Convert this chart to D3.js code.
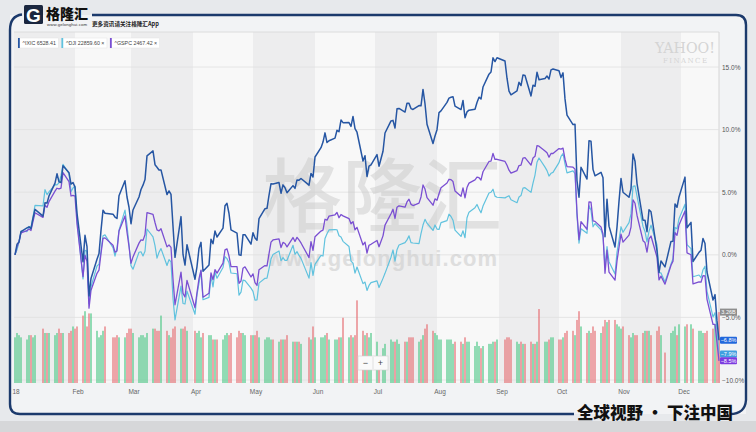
<!DOCTYPE html>
<html><head><meta charset="utf-8">
<script src="https://cdn.jsdelivr.net/npm/d3@7"></script>
<style>body{margin:0;background:#e9ebee}svg{display:block}</style>
</head><body><svg id="c" width="756" height="432"></svg>
<script>
// trading days of 2018, one inner list per month
const tradeDays = [
 [2,3,4,5,8,9,10,11,12,16,17,18,19,22,23,24,25,26,29,30,31],
 [1,2,5,6,7,8,9,12,13,14,15,16,20,21,22,23,26,27,28],
 [1,2,5,6,7,8,9,12,13,14,15,16,19,20,21,22,23,26,27,28,29],
 [2,3,4,5,6,9,10,11,12,13,16,17,18,19,20,23,24,25,26,27,30],
 [1,2,3,4,7,8,9,10,11,14,15,16,17,18,21,22,23,24,25,29,30,31],
 [1,4,5,6,7,8,11,12,13,14,15,18,19,20,21,22,25,26,27,28,29],
 [2,3,5,6,9,10,11,12,13,16,17,18,19,20,23,24,25,26,27,30,31],
 [1,2,3,6,7,8,9,10,13,14,15,16,17,20,21,22,23,24,27,28,29,30,31],
 [4,5,6,7,10,11,12,13,14,17,18,19,20,21,24,25,26,27,28],
 [1,2,3,4,5,8,9,10,11,12,15,16,17,18,19,22,23,24,25,26,29,30,31],
 [1,2,5,6,7,8,9,12,13,14,15,16,19,20,21,23,26,27,28,29,30],
 [3,4,6,7,10,11,12,13,14,17,18,19,20]
];
const ixic = [
 7006.90,7065.53,7077.91,7136.56,7157.39,7163.58,7153.57,7211.78,7261.06,7223.69,7298.28,7296.05,7336.38,7408.03,7460.29,7415.06,7411.16,7505.77,7466.51,7402.48,7411.48,
 7385.86,7240.95,6967.53,7115.88,7051.98,6777.16,6874.49,6981.96,7013.51,7143.62,7256.43,7239.47,7234.31,7218.23,7210.09,7337.39,7421.46,7330.35,7273.01,
 7180.56,7257.87,7330.70,7372.01,7396.65,7427.95,7560.81,7588.32,7511.01,7496.81,7481.74,7481.99,7344.24,7364.30,7345.29,7166.68,6992.67,7220.54,7008.81,6949.23,7063.44,
 6870.12,6941.28,7042.11,7076.55,6915.11,6950.34,7094.30,7069.03,7140.25,7106.65,7156.28,7281.10,7295.24,7238.06,7146.13,7128.60,7007.35,7003.74,7118.68,7119.80,7066.27,
 7130.70,7100.90,7088.15,7209.62,7265.21,7266.90,7339.91,7404.97,7402.88,7411.32,7351.63,7398.30,7382.47,7354.34,7394.04,7378.46,7425.96,7424.43,7433.85,7396.59,7462.45,7442.12,
 7554.33,7606.46,7637.86,7689.24,7635.07,7645.51,7659.93,7703.79,7695.70,7761.04,7746.38,7747.03,7725.59,7781.51,7712.95,7692.82,7532.01,7561.63,7445.08,7503.68,7510.30,
 7567.69,7502.67,7586.43,7688.39,7756.20,7759.20,7716.61,7823.92,7825.98,7805.72,7855.12,7854.44,7825.30,7820.20,7841.87,7840.77,7932.24,7852.18,7737.42,7630.00,7671.79,
 7707.29,7802.69,7812.01,7859.68,7883.66,7888.33,7891.78,7839.11,7819.71,7870.89,7774.12,7806.52,7816.33,7821.01,7859.17,7889.10,7878.46,7945.98,8017.90,8030.04,8109.54,8088.36,8109.69,
 8091.25,7995.17,7922.73,7902.54,7924.16,7972.47,7954.23,8013.71,8010.04,7895.79,7956.11,7950.04,8028.23,7986.96,7993.25,8007.47,7990.37,8041.97,8046.35,
 8037.30,7999.55,8025.09,7879.51,7788.45,7735.95,7738.02,7422.05,7329.06,7496.89,7430.74,7645.49,7642.70,7485.14,7449.03,7468.63,7437.54,7108.40,7318.34,7167.21,7050.29,7161.65,7305.90,
 7434.06,7356.99,7328.85,7375.96,7570.75,7530.88,7406.90,7200.87,7200.87,7136.39,7259.03,7247.87,7028.48,6908.82,6972.25,6938.98,7081.85,7082.70,7291.59,7273.08,7330.54,
 7441.51,7158.43,7188.26,6969.25,7020.52,7031.83,7098.31,7070.33,6910.67,6753.73,6783.91,6636.83,6528.41
];
const dji = [
 24824.01,24922.68,25075.13,25295.87,25283.00,25385.80,25369.13,25574.73,25803.19,25792.86,26115.65,26017.81,26071.72,26214.60,26210.81,26252.12,26392.79,26616.71,26439.48,26076.89,26149.39,
 26186.71,25520.96,24345.75,24912.77,24893.35,23860.46,24190.90,24601.27,24640.45,24893.49,25200.37,25219.38,24964.75,24797.78,24962.48,25309.99,25709.27,25410.03,25029.20,
 24608.98,24538.06,24874.76,24884.12,24801.36,24895.21,25335.74,25178.61,25007.03,24758.12,24873.66,24946.51,24610.91,24727.27,24682.31,23957.89,23533.20,24202.60,23857.71,23848.42,24103.11,
 23644.19,24033.36,24264.30,24505.22,23932.76,23979.10,24407.96,24189.45,24483.05,24360.14,24573.04,24786.63,24748.07,24664.89,24462.94,24448.69,24024.13,24083.83,24322.34,24311.19,24163.15,
 24099.05,23924.98,23930.15,24262.51,24357.32,24360.21,24542.54,24739.53,24831.17,24899.41,24706.41,24768.93,24713.98,24715.09,25013.29,24834.41,24886.81,24811.76,24753.09,24361.45,24667.78,24415.84,
 24635.21,24813.69,24799.98,25146.39,25241.41,25316.53,25322.31,25320.73,25201.20,25175.31,25090.48,24987.47,24700.21,24657.80,24461.70,24580.89,24252.80,24283.11,24117.59,24216.05,24271.41,
 24307.18,24174.82,24356.74,24456.48,24776.59,24919.66,24700.45,24924.89,25019.41,25064.36,25119.89,25199.29,25064.50,25058.12,25044.29,25241.94,25414.10,25527.07,25451.06,25306.83,25415.19,
 25333.82,25326.16,25462.58,25502.18,25628.91,25583.75,25509.23,25313.14,25187.70,25299.92,25162.41,25558.73,25669.32,25758.69,25822.29,25733.60,25656.98,25790.35,26049.64,26064.02,26124.57,25986.92,25964.82,
 25952.48,25974.99,25995.87,25916.54,25857.07,25971.06,25998.92,26145.99,26154.67,26062.12,26246.96,26405.76,26656.98,26743.50,26562.05,26492.21,26385.28,26439.93,26458.31,
 26651.21,26773.94,26828.39,26627.48,26447.05,26486.78,26430.57,25598.74,25052.83,25339.99,25250.55,25798.42,25706.68,25379.45,25444.34,25317.41,25191.43,24583.42,24984.55,24688.31,24442.92,24874.64,25115.76,
 25380.74,25270.83,25461.70,25635.01,26180.30,26191.22,25989.30,25387.18,25286.49,25080.50,25289.27,25413.22,25017.44,24465.64,24464.69,24285.95,24640.24,24748.73,25366.43,25338.84,25538.46,
 25826.43,25027.07,24947.67,24388.95,24423.26,24370.24,24527.27,24597.38,24100.51,23592.98,23675.64,23323.66,22859.60
];
const gspc = [
 2695.81,2713.06,2723.99,2743.15,2747.71,2751.29,2748.23,2767.56,2786.24,2776.42,2802.56,2798.03,2810.30,2832.97,2839.13,2837.54,2839.25,2872.87,2853.53,2822.43,2823.81,
 2821.98,2762.13,2648.94,2695.14,2681.66,2581.00,2619.55,2656.00,2662.94,2698.63,2731.20,2732.22,2716.26,2701.33,2703.96,2747.30,2779.60,2744.28,2713.83,
 2677.67,2691.25,2720.94,2728.12,2726.80,2738.97,2786.57,2783.02,2765.31,2749.48,2747.33,2752.01,2712.92,2716.94,2711.93,2643.69,2588.26,2658.55,2612.62,2605.00,2640.87,
 2581.88,2614.45,2644.69,2662.84,2604.47,2613.16,2656.87,2642.19,2663.99,2656.30,2677.84,2706.39,2708.64,2693.13,2670.14,2670.29,2634.56,2639.40,2666.94,2669.91,2648.05,
 2654.80,2635.67,2629.73,2663.42,2672.63,2671.92,2697.79,2723.07,2727.72,2730.13,2711.45,2722.46,2720.13,2712.97,2733.01,2724.44,2733.29,2727.76,2721.33,2689.86,2724.01,2705.27,
 2734.62,2746.87,2748.80,2772.35,2770.37,2779.03,2782.00,2786.85,2775.63,2782.49,2779.66,2773.75,2762.59,2767.32,2749.76,2754.88,2717.07,2723.06,2699.63,2716.31,2718.37,
 2726.71,2713.22,2736.61,2759.82,2784.17,2793.84,2774.02,2798.29,2801.31,2798.43,2809.55,2815.62,2804.49,2801.83,2806.98,2820.40,2846.07,2837.44,2818.82,2802.60,2816.29,
 2813.36,2827.22,2840.35,2850.40,2858.45,2857.70,2853.58,2833.28,2821.93,2839.96,2818.37,2840.69,2850.13,2857.05,2862.96,2861.82,2856.98,2874.69,2896.74,2897.52,2914.04,2901.13,2901.52,
 2896.72,2888.60,2878.05,2871.68,2877.13,2887.89,2888.92,2904.18,2904.98,2888.80,2904.31,2907.95,2930.75,2929.67,2919.37,2915.56,2905.97,2914.00,2913.98,
 2924.59,2923.43,2925.51,2901.61,2885.57,2884.43,2880.34,2785.68,2728.37,2767.13,2750.79,2809.92,2809.21,2768.78,2767.78,2755.88,2740.69,2656.10,2705.57,2658.69,2641.25,2682.63,2711.74,
 2740.37,2723.06,2738.31,2755.45,2813.89,2806.83,2781.01,2726.22,2722.18,2701.58,2730.20,2736.27,2690.73,2641.89,2649.93,2632.56,2673.45,2682.17,2743.79,2737.80,2760.17,
 2790.37,2700.06,2695.95,2633.08,2637.72,2636.78,2651.07,2650.54,2599.95,2545.94,2546.16,2506.96,2467.42
];
// ^IXIC volume, billions of shares
const volume = [
 2.1,2.3,2.2,2.1,2.0,2.2,2.2,2.1,2.2,2.5,2.3,2.3,2.3,2.2,2.3,2.5,2.3,2.3,2.3,2.4,2.6,
 2.5,2.6,3.1,3.3,2.6,3.2,3.2,2.4,2.1,2.2,2.4,2.6,2.1,2.1,2.2,2.1,2.1,2.3,2.5,
 2.5,2.3,2.1,2.2,2.2,2.1,2.3,2.5,2.5,2.4,2.4,3.1,2.4,2.2,2.1,2.5,2.6,2.5,2.5,2.6,2.4,
 2.4,2.3,2.4,2.1,2.3,2.2,2.2,2.0,2.0,2.0,2.0,2.2,2.3,2.2,2.3,2.1,2.4,2.3,2.3,2.2,2.2,
 2.2,2.2,2.4,2.1,2.0,2.1,2.1,2.0,2.0,1.9,2.0,2.0,2.0,2.2,1.9,1.9,1.9,1.9,1.8,2.1,2.0,2.6,
 2.1,2.1,2.1,2.2,2.3,2.0,2.0,2.0,2.1,2.1,3.0,2.1,2.2,2.1,2.2,3.8,2.4,2.2,2.3,2.1,2.3,
 1.9,1.2,1.6,1.8,2.0,1.9,1.9,2.0,1.8,1.9,1.9,2.1,2.1,2.1,1.9,2.0,2.2,2.5,2.7,2.4,2.3,
 2.2,2.0,2.0,2.0,2.0,2.0,1.8,1.9,1.9,1.8,2.1,1.9,1.9,1.7,1.9,1.7,1.6,1.7,1.8,1.8,1.9,1.9,2.0,
 2.0,2.1,2.1,2.0,1.9,1.8,1.9,1.8,1.8,1.9,1.8,1.8,1.9,3.4,1.9,1.9,2.0,2.1,2.1,
 2.0,2.0,2.1,2.3,2.4,2.4,2.2,2.9,3.3,2.6,2.3,2.4,2.3,2.6,2.4,2.3,2.6,2.9,2.8,2.9,2.9,2.7,2.6,
 2.5,2.6,2.2,2.1,2.3,2.2,2.2,2.3,2.4,2.4,2.4,2.2,2.4,2.6,2.2,1.4,2.3,2.4,2.6,2.2,2.7,
 2.6,2.7,2.7,2.5,2.4,2.4,2.3,2.3,2.4,2.5,2.7,2.7,3.26
];
const monthLabels = ["18","Feb","Mar","Apr","May","Jun","Jul","Aug","Sep","Oct","Nov","Dec"];
const yTicks = [15,10,5,0,-5,-10];
const seriesNames = ["^IXIC","^DJI","^GSPC"];

const svg = d3.select("#c");
const FONT = "'Liberation Sans', Arial, sans-serif";
const CJK = "'Noto Sans CJK SC', sans-serif";
const PL = 14, PR = 719, PT = 32, PB = 383;

const dates = tradeDays.flatMap((ds, m) => ds.map(d => new Date(2018, m, d)));
const x = d3.scaleTime().domain([dates[0], dates[dates.length - 1]]).range([15, 719]);
const y = d3.scaleLinear().domain([-10, 15]).range([380, 67]);
const yv = d3.scaleLinear().domain([0, 4]).range([383, 296]);

// page background + frame interior
svg.append("rect").attr("width", 756).attr("height", 432).attr("fill", "#e7e9ec");
svg.append("rect").attr("x", 0).attr("y", 421).attr("width", 756).attr("height", 11).attr("fill", "#d6d7d9");
svg.append("rect").attr("x", 10).attr("y", 15).attr("width", 736).attr("height", 399).attr("fill", "#f2f3f5");

// month bands
const bands = svg.append("g");
d3.range(12).forEach(m => {
  const x0 = Math.max(PL, x(new Date(2018, m, 1)));
  const x1 = Math.min(PR, x(new Date(2018, m + 1, 1)));
  bands.append("rect").attr("x", x0).attr("y", PT).attr("width", x1 - x0).attr("height", PB - PT)
    .attr("fill", m % 2 === 0 ? "#ededee" : "#f8f8f8");
});
svg.append("line").attr("x1", PL).attr("x2", PR).attr("y1", PT).attr("y2", PT).attr("stroke", "#dcdcdc");
svg.append("line").attr("x1", PR).attr("x2", PR).attr("y1", PT).attr("y2", PB).attr("stroke", "#d6d6d6");

// grid
svg.append("g").selectAll("line").data(yTicks).join("line")
  .attr("x1", PL).attr("x2", PR).attr("y1", d => y(d)).attr("y2", d => y(d))
  .attr("stroke", "#e0e0e0").attr("stroke-width", 0.8);

// watermarks
svg.append("text").attr("x", 262).attr("y", 225).attr("font-family", CJK).attr("font-weight", 500)
  .attr("font-size", 80).attr("fill", "#c6c6c6").attr("opacity", 0.45).text("格隆汇");
svg.append("text").attr("x", 267).attr("y", 266).attr("font-family", FONT).attr("font-weight", "bold")
  .attr("font-size", 22).attr("textLength", 230).attr("fill", "#cdcdcd").attr("opacity", 0.6).text("www.gelonghui.com");
svg.append("text").attr("x", 655).attr("y", 53).attr("font-family", "'DejaVu Serif', serif")
  .attr("font-size", 15).attr("textLength", 60).attr("lengthAdjust", "spacingAndGlyphs").attr("fill", "#d4d4d4").text("YAHOO!");
svg.append("text").attr("x", 663).attr("y", 63).attr("font-family", "'DejaVu Serif', serif")
  .attr("font-size", 7).attr("textLength", 44).attr("fill", "#d4d4d4").text("FINANCE");

// volume bars
svg.append("clipPath").attr("id", "pc").append("rect")
  .attr("x", PL).attr("y", PT).attr("width", PR - PL + 1).attr("height", PB - PT);
svg.append("g").attr("clip-path", "url(#pc)").selectAll("rect").data(volume).join("rect")
  .attr("x", (v, i) => x(dates[i]) - 0.6).attr("width", 1.2)
  .attr("y", v => yv(v)).attr("height", v => yv(0) - yv(v))
  .attr("fill", (v, i) => (i === 0 || ixic[i] >= ixic[i - 1]) ? "#4fc888" : "#e66f74");

// lines
const closes = [ixic, dji, gspc];
const colors = ["#2656a3", "#60c2de", "#7a4fd2"];
const tagColors = ["#2167dc", "#3f9fe0", "#7b3be0"];
const widths = [1.5, 1.2, 1.3];
const pctSeries = closes.map(c => c.map((v, i) => ({ date: dates[i], pct: (v / c[0] - 1) * 100 })));
const line = d3.line().x(d => x(d.date)).y(d => y(d.pct));
const lg = svg.append("g").attr("clip-path", "url(#pc)");
[1, 2, 0].forEach(k => {
  lg.append("path").datum(pctSeries[k]).attr("d", line).attr("fill", "none")
    .attr("stroke", colors[k]).attr("stroke-width", widths[k]).attr("stroke-linejoin", "round");
});

// right axis
const ay = svg.append("g").attr("transform", `translate(${PR},0)`)
  .call(d3.axisRight(y).tickValues(yTicks).tickSize(0).tickPadding(3).tickFormat(d => d3.format(".1f")(d) + "%"));
ay.select(".domain").remove();
ay.selectAll("text").attr("font-family", FONT).attr("font-size", 6.5).attr("fill", "#555");

// bottom axis
const ax = svg.append("g").attr("transform", `translate(0,${PB})`)
  .call(d3.axisBottom(x).tickValues(d3.range(12).map(m => new Date(2018, m, 1)))
    .tickSize(0).tickPadding(6).tickFormat((d, i) => monthLabels[i]));
ax.select(".domain").remove();
ax.selectAll("text").attr("font-family", FONT).attr("font-size", 6.5).attr("fill", "#666").attr("dx", 2.5);

// value tags
const tagG = svg.append("g");
const volTagY = yv(volume[volume.length - 1]);
tagG.append("rect").attr("x", 720).attr("y", volTagY - 3.5).attr("width", 17).attr("height", 7).attr("fill", "#8e8e8e");
tagG.append("text").attr("x", 728.5).attr("y", volTagY).attr("dy", "0.35em").attr("text-anchor", "middle")
  .attr("font-family", FONT).attr("font-size", 5.5).attr("fill", "#fff").text(d3.format(".2f")(volume[volume.length - 1]) + "B");
pctSeries.forEach((s, k) => {
  const v = s[s.length - 1].pct;
  const ty = y(v);
  tagG.append("rect").attr("x", 720).attr("y", ty - 3.5).attr("width", 17).attr("height", 7).attr("rx", 1).attr("fill", tagColors[k]);
  tagG.append("text").attr("x", 728.5).attr("y", ty).attr("dy", "0.35em").attr("text-anchor", "middle")
    .attr("font-family", FONT).attr("font-size", 5.5).attr("fill", "#fff").text(d3.format(".1f")(v) + "%");
});

// legend
let lx = 18;
seriesNames.forEach((n, k) => {
  const g = svg.append("g").attr("transform", `translate(${lx},38)`);
  const bg = g.append("rect").attr("y", 0).attr("height", 10).attr("fill", "#fff").attr("stroke", "#e2e2e2").attr("stroke-width", 0.5);
  g.append("rect").attr("x", 0).attr("y", 0).attr("width", 1.8).attr("height", 10).attr("fill", colors[k]);
  const t = g.append("text").attr("x", 4.5).attr("y", 5).attr("dy", "0.35em").attr("font-family", FONT)
    .attr("font-size", 5.3).attr("fill", "#444")
    .text(n + " " + d3.format(".2f")(closes[k][closes[k].length - 1]) + (k > 0 ? "  ×" : ""));
  const w = t.node().getComputedTextLength() + 7;
  bg.attr("width", w);
  lx += w + 3;
});

// zoom control
const zc = svg.append("g");
zc.append("rect").attr("x", 358).attr("y", 356).attr("width", 30).attr("height", 14).attr("fill", "#fafafa").attr("stroke", "#d0d0d0").attr("stroke-width", 0.6);
zc.append("line").attr("x1", 373).attr("x2", 373).attr("y1", 357).attr("y2", 369).attr("stroke", "#d0d0d0").attr("stroke-width", 0.6);
zc.append("text").attr("x", 365.5).attr("y", 363).attr("dy", "0.35em").attr("text-anchor", "middle").attr("font-family", FONT).attr("font-size", 9).attr("fill", "#444").text("−");
zc.append("text").attr("x", 380.5).attr("y", 363).attr("dy", "0.35em").attr("text-anchor", "middle").attr("font-family", FONT).attr("font-size", 9).attr("fill", "#444").text("+");

// frame
const frame = "#1c3a6c";
svg.append("path").attr("d", "M92,15 H736 Q746,15 746,25 V400 Q745,414 730,414")
  .attr("fill", "none").attr("stroke", frame).attr("stroke-width", 2.4);
svg.append("path").attr("d", "M22,14.5 Q10,16 10,30 V404 Q10,414 20,414 H574")
  .attr("fill", "none").attr("stroke", frame).attr("stroke-width", 2.4);

// logo
svg.append("rect").attr("x", 24).attr("y", 5).attr("width", 19).attr("height", 19).attr("rx", 1.5).attr("fill", "#1b2740");
svg.append("text").attr("x", 33.5).attr("y", 21.5).attr("text-anchor", "middle").attr("font-family", FONT)
  .attr("font-weight", "bold").attr("font-size", 19).attr("fill", "#fff").text("G");
svg.append("text").attr("x", 46).attr("y", 19).attr("font-family", CJK).attr("font-weight", 900)
  .attr("font-size", 14).attr("fill", "#111").text("格隆汇");
svg.append("text").attr("x", 47).attr("y", 25.5).attr("font-family", FONT).attr("font-size", 4.3)
  .attr("textLength", 40).attr("fill", "#333").text("www.gelonghui.com");
svg.append("text").attr("x", 92).attr("y", 25.5).attr("font-family", CJK).attr("font-weight", 700)
  .attr("font-size", 5.6).attr("fill", "#222").text("更多资讯请关注格隆汇App");

// slogan
svg.append("text").attr("x", 577).attr("y", 418.5).attr("font-family", CJK).attr("font-weight", 900)
  .attr("font-size", 16.5).attr("fill", "#111").text("全球视野 · 下注中国");
</script></body></html>
